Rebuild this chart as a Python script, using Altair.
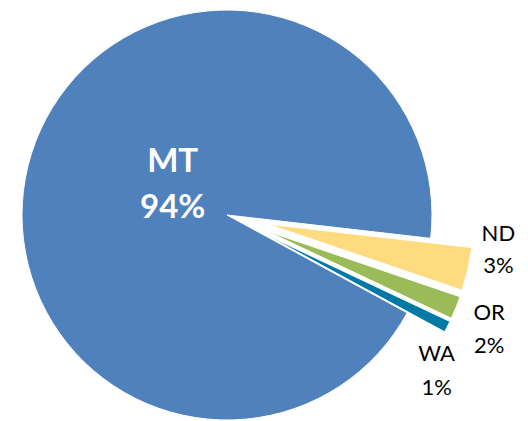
import math
import altair as alt
import pandas as pd

# ---- data ----
states = ["MT", "ND", "OR", "WA"]
shares = [93.9, 3.4, 1.8, 0.9]
colors = ["#4F81BD", "#FFDB80", "#9BBB59", "#0079A6"]

df = pd.DataFrame({"state": states, "value": shares, "order": list(range(len(states)))})
total = float(sum(shares))

W, H = 512, 413
CX, CY = 219, 207
R = 205
A0 = math.radians(118.5)
EXPLODE = 42

base = (
    alt.Chart(df)
    .transform_stack(stack="value", groupby=[], as_=["start", "end"],
                     sort=[alt.SortField("order", order="ascending")])
    .transform_calculate(
        mid=f"{A0} + PI * (datum.start + datum.end) / {total}",
        ex=f"datum.state == 'MT' ? 0 : {EXPLODE}",
        label=f"datum.state + '\\n' + format(datum.value, '.0f') + '%'",
    )
    .transform_calculate(
        cx=f"{CX} + datum.ex * sin(datum.mid)",
        cy=f"{CY} - datum.ex * cos(datum.mid)",
    )
)

arcs = base.mark_arc(radius=R, stroke="white", strokeWidth=1).encode(
    theta=alt.Theta("start:Q", stack=None,
                    scale=alt.Scale(domain=[0, total], range=[A0, A0 + 2 * math.pi])),
    theta2=alt.Theta2("end:Q"),
    x=alt.X("cx:Q", scale=None, axis=None),
    y=alt.Y("cy:Q", scale=None, axis=None),
    color=alt.Color("state:N", scale=alt.Scale(domain=states, range=colors), legend=None),
)


def label_layer(state, rad, dx, dy, size, weight, color, lh):
    return (
        base.transform_filter(f"datum.state == '{state}'")
        .transform_calculate(
            lx=f"datum.cx + {rad} * sin(datum.mid)",
            ly=f"datum.cy - {rad} * cos(datum.mid)",
        )
        .mark_text(align="center", baseline="middle", lineBreak="\n", font="Lato",
                   fontSize=size, fontWeight=weight, color=color, lineHeight=lh,
                   dx=dx, dy=dy)
        .encode(
            x=alt.X("lx:Q", scale=None, axis=None),
            y=alt.Y("ly:Q", scale=None, axis=None),
            text="label:N",
        )
    )


mt_lab = label_layer("MT", 57, 0, -36, 33, "bold", "white", 46)
nd_lab = label_layer("ND", 230, 6, -41, 22, "normal", "black", 32)
or_lab = label_layer("OR", 230, 10, -4, 22, "normal", "black", 33)
wa_lab = label_layer("WA", 230, -33, 16, 22, "normal", "black", 34)

chart = (
    alt.layer(arcs, mt_lab, nd_lab, or_lab, wa_lab)
    .properties(width=W, height=H, padding=0, autosize="none")
    .configure_view(stroke=None)
)

chart.save("out.html", embed_options={"renderer": "svg", "actions": False})
